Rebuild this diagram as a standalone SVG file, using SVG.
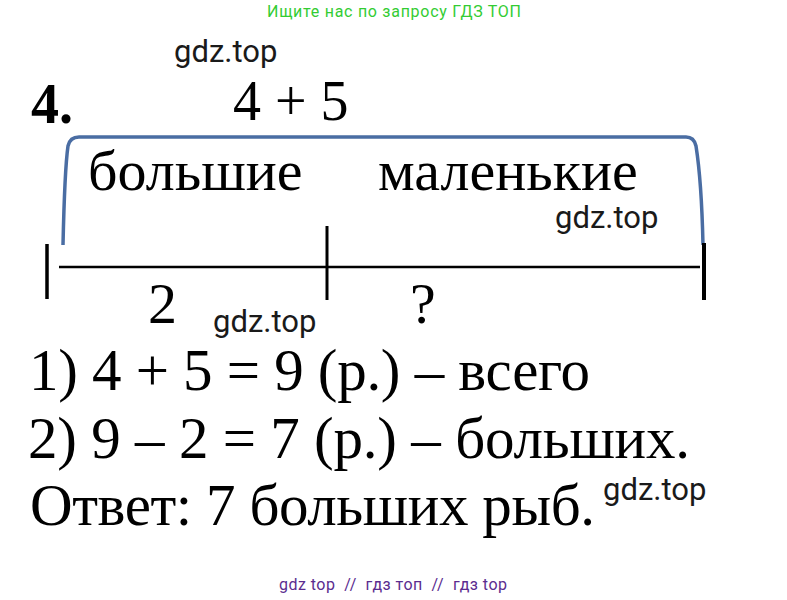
<svg xmlns="http://www.w3.org/2000/svg" width="787" height="600" viewBox="0 0 787 600">
<style>
.s{font-family:"Liberation Serif","Times New Roman",serif;fill:#000}
.w{font-family:Roboto,"Liberation Sans",sans-serif;fill:#1a1a1a;font-size:31px}
.k{stroke:#000;fill:none}
</style>
<rect width="787" height="600" fill="#fff"/>
<text x="267" y="17" textLength="254" style="font-family:Roboto,'Liberation Sans',sans-serif;font-size:16px;fill:#33cc33">Ищите нас по запросу ГДЗ ТОП</text>
<text class="w" x="174" y="62">gdz.top</text>
<text class="s" x="31" y="123" font-size="56" font-weight="bold">4.</text>
<text class="s" x="233" y="120" font-size="56">4 + 5</text>
<path d="M63,245 C64,200 66,160 68,146 Q70,137 79,137 L686,137 Q694,137 696,146 C699,165 702,200 703,245" fill="none" stroke="#4a6da3" stroke-width="3.5"/>
<text class="s" x="88" y="190" font-size="58">большие</text>
<text class="s" x="378" y="190" font-size="58">маленькие</text>
<text class="w" x="555" y="228">gdz.top</text>
<path class="k" d="M59,267 H700" stroke-width="2.5"/>
<path class="k" d="M47,244 V299" stroke-width="3.5"/>
<path class="k" d="M327,226 V300" stroke-width="3"/>
<path class="k" d="M704,243 V300" stroke-width="4"/>
<text class="s" x="148" y="323" font-size="58">2</text>
<text class="s" x="410" y="323" font-size="58">?</text>
<text class="w" x="213" y="332">gdz.top</text>
<text class="s" x="29" y="390" font-size="59" textLength="561">1) 4 + 5 = 9 (р.) – всего</text>
<text class="s" x="28" y="458" font-size="59" textLength="662">2) 9 – 2 = 7 (р.) – больших.</text>
<text class="s" x="30" y="525" font-size="59" textLength="565">Ответ: 7 больших рыб.</text>
<text class="w" x="603" y="500">gdz.top</text>
<text x="279" y="590" xml:space="preserve" textLength="228" style="white-space:pre;font-family:Roboto,'Liberation Sans',sans-serif;font-size:16px;fill:#5b2c8f">gdz top  //  гдз топ  //  гдз top</text>
</svg>
